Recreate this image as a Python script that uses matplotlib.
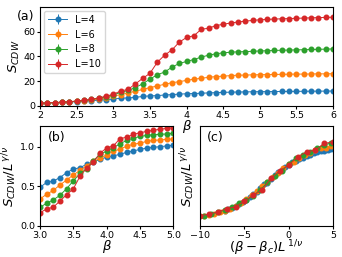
import matplotlib.pyplot as plt

beta = [2.0, 2.1, 2.2, 2.3, 2.4, 2.5, 2.6, 2.7, 2.8, 2.9,
        3.0, 3.1, 3.2, 3.3, 3.4, 3.5, 3.6, 3.7, 3.8, 3.9,
        4.0, 4.1, 4.2, 4.3, 4.4, 4.5, 4.6, 4.7, 4.8, 4.9,
        5.0, 5.1, 5.2, 5.3, 5.4, 5.5, 5.6, 5.7, 5.8, 5.9, 6.0]

sizes = [4, 6, 8, 10]

s_L4 = [2.1, 2.3, 2.5, 2.8, 3.1, 3.4, 3.8, 4.2, 4.6, 5.0,
        5.5, 6.2, 6.4, 6.9, 7.6, 8.1, 8.3, 8.8, 9.1, 9.5,
        9.8, 10.0, 10.2, 10.5, 10.7, 10.9, 11.1, 11.2, 11.3, 11.4,
        11.5, 11.55, 11.6, 11.65, 11.7, 11.75, 11.8, 11.85, 11.9, 11.95, 12.0]
s_L6 = [2.1, 2.3, 2.6, 2.9, 3.3, 3.7, 4.2, 4.8, 5.6, 6.6,
        7.8, 9.2, 10.3, 11.9, 13.3, 14.8, 16.1, 17.5, 18.7, 19.6,
        20.6, 21.6, 22.3, 23.1, 23.7, 24.0, 24.5, 24.8, 24.9, 25.1,
        25.2, 25.3, 25.4, 25.5, 25.6, 25.7, 25.7, 25.8, 25.9, 25.9, 26.0]
s_L8 = [2.1, 2.3, 2.6, 2.9, 3.3, 3.8, 4.4, 5.2, 6.2, 7.4,
        8.9, 10.9, 12.5, 14.7, 17.9, 21.6, 25.2, 27.3, 31.3, 34.3,
        35.9, 37.5, 39.4, 41.0, 42.1, 42.9, 43.4, 43.7, 43.9, 44.1,
        44.4, 44.6, 44.8, 45.0, 45.1, 45.3, 45.4, 45.6, 45.7, 45.9, 46.0]
s_L10 = [2.2, 2.4, 2.7, 3.0, 3.4, 3.9, 4.5, 5.3, 6.4, 7.8,
         9.4, 12.0, 13.3, 17.7, 22.2, 26.3, 35.2, 41.0, 45.2, 51.5,
         55.3, 56.7, 61.9, 62.8, 64.9, 66.0, 67.0, 67.8, 68.5, 69.1,
         69.6, 69.9, 70.2, 70.4, 70.6, 70.8, 71.0, 71.2, 71.4, 71.5, 71.7]

# critical exponents used for the scaling (2D Ising)
gamma_nu = 1.75
nu = 1.0
beta_c = 3.8

series = [s_L4, s_L6, s_L8, s_L10]

fig = plt.figure(figsize=(3.42, 2.57), dpi=100)
ax_a = fig.add_axes([0.117, 0.588, 0.857, 0.385])
ax_b = fig.add_axes([0.117, 0.121, 0.390, 0.389])
ax_c = fig.add_axes([0.585, 0.121, 0.389, 0.389])

kw = dict(fmt='o-', ms=3.3, lw=0.7, elinewidth=0.7)

for L, s in zip(sizes, series):
    ax_a.errorbar(beta, s, yerr=0, label='L=%d' % L, **kw)
    scaled = [v / L ** gamma_nu for v in s]
    ax_b.errorbar(beta, scaled, yerr=0, **kw)
    xs = [(b - beta_c) * L ** (1 / nu) for b in beta]
    ax_c.errorbar(xs, scaled, yerr=0, **kw)

fs = 6.8
lab = 9.5
ax_a.set_xlim(2, 6)
ax_a.set_ylim(0, 80)
ax_a.set_xticks([2, 2.5, 3, 3.5, 4, 4.5, 5, 5.5, 6])
ax_a.set_xticklabels(['2', '2.5', '3', '3.5', '4', '4.5', '5', '5.5', '6'])
ax_a.set_yticks([0, 20, 40, 60])
ax_a.set_xlabel(r'$\beta$', fontsize=lab, labelpad=-1)
ax_a.set_ylabel(r'$S_{CDW}$', fontsize=lab, labelpad=1)
ax_a.legend(loc='upper left', fontsize=7, handlelength=2.0, borderaxespad=0.4)
ax_a.text(-0.078, 0.9, '(a)', transform=ax_a.transAxes, fontsize=9,
          va='center', ha='left')

ax_b.set_xlim(3, 5)
ax_b.set_ylim(0, 1.26)
ax_b.set_xticks([3.0, 3.5, 4.0, 4.5, 5.0])
ax_b.set_yticks([0.0, 0.5, 1.0])
ax_b.set_xlabel(r'$\beta$', fontsize=lab, labelpad=-1)
ax_b.set_ylabel(r'$S_{CDW}/L^{\,\gamma/\nu}$', fontsize=lab, labelpad=1)
ax_b.text(0.06, 0.88, '(b)', transform=ax_b.transAxes, fontsize=9, va='center')

ax_c.set_xlim(-10, 5)
ax_c.set_xticks([-10, -5, 0, 5])
ax_c.set_yticks([])
ax_c.set_xlabel(r'$(\beta-\beta_c)L^{\,1/\nu}$', fontsize=lab, labelpad=-1)
ax_c.set_ylabel(r'$S_{CDW}/L^{\,\gamma/\nu}$', fontsize=lab, labelpad=2)
ax_c.text(0.05, 0.88, '(c)', transform=ax_c.transAxes, fontsize=9, va='center')

for ax in (ax_a, ax_b, ax_c):
    ax.tick_params(labelsize=fs, length=2, pad=1.5)

fig.savefig('out.png', dpi=100)
